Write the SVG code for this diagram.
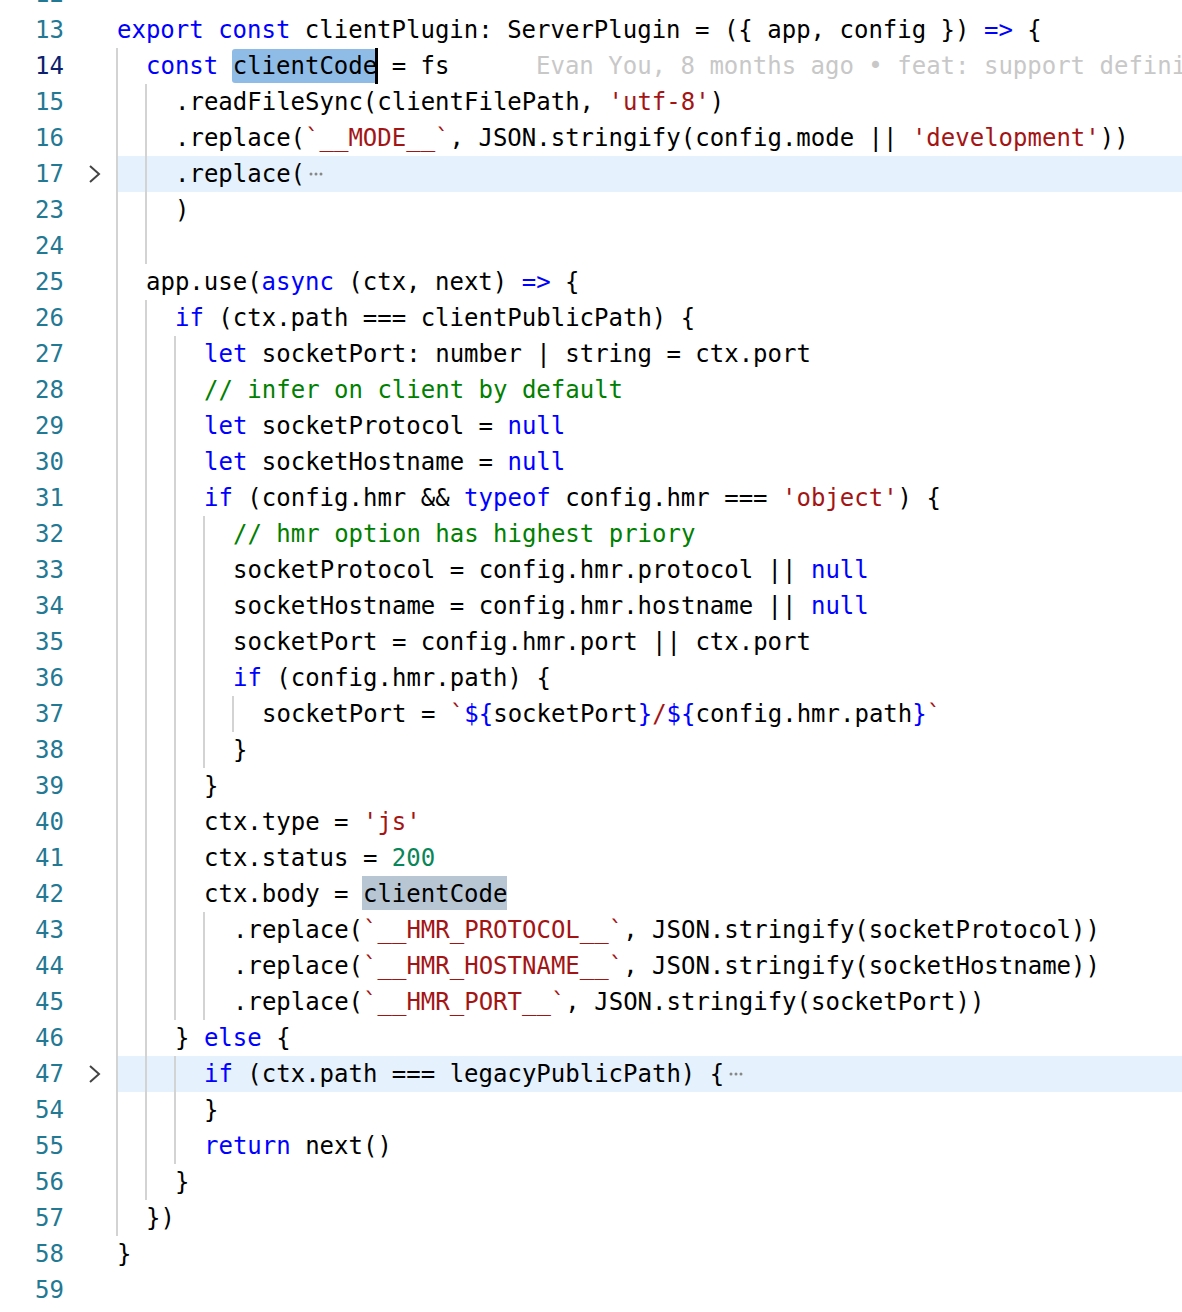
<svg xmlns="http://www.w3.org/2000/svg" width="1182" height="1312" viewBox="0 0 1182 1312">
<style>
text{font-family:"DejaVu Sans Mono","Liberation Mono",monospace;font-size:24px;fill:#000;white-space:pre}
.ln{fill:#237893;text-anchor:end}
.cur{fill:#0b216f}
.k{fill:#0000ff}
.s{fill:#a31515}
.c{fill:#008000}
.n{fill:#098658}
.g{stroke:#d3d3d3;stroke-width:2}
.bl{fill:#c8c8c8}
.el{fill:#888}
.fold{fill:none;stroke:#444;stroke-width:2}
</style>
<rect width="1182" height="1312" fill="#fff"/>
<g id="highlights">
<rect x="117" y="156" width="1065" height="36" fill="#e5f1fd"/>
<rect x="117" y="1056" width="1065" height="36" fill="#e5f1fd"/>
<rect x="232" y="49" width="145" height="34" rx="3" fill="#8fbce7"/>
<rect x="375" y="48" width="3" height="36" fill="#000"/>
<rect x="362" y="876" width="145" height="34" fill="#b8c6d4"/>
</g>
<g id="guides">
<line class="g" x1="117" y1="48" x2="117" y2="1236"/>
<line class="g" x1="146" y1="84" x2="146" y2="264"/>
<line class="g" x1="146" y1="300" x2="146" y2="1200"/>
<line class="g" x1="175" y1="336" x2="175" y2="1020"/>
<line class="g" x1="175" y1="1056" x2="175" y2="1164"/>
<line class="g" x1="204" y1="516" x2="204" y2="768"/>
<line class="g" x1="204" y1="912" x2="204" y2="1020"/>
<line class="g" x1="233" y1="696" x2="233" y2="732"/>
</g>
<g id="folds">
<polyline class="fold" points="90,166 99,174 90,182"/>
<polyline class="fold" points="90,1066 99,1074 90,1082"/>
</g>
<g id="ellipses">
<g class="el"><circle cx="311" cy="174" r="1.5"/><circle cx="316" cy="174" r="1.5"/><circle cx="321" cy="174" r="1.5"/></g>
<g class="el"><circle cx="731" cy="1074" r="1.5"/><circle cx="736" cy="1074" r="1.5"/><circle cx="741" cy="1074" r="1.5"/></g>
</g>
<g id="linenumbers">
<text class="ln" x="64" y="2">12</text>
<text class="ln" x="64" y="38">13</text>
<text class="ln cur" x="64" y="74">14</text>
<text class="ln" x="64" y="110">15</text>
<text class="ln" x="64" y="146">16</text>
<text class="ln" x="64" y="182">17</text>
<text class="ln" x="64" y="218">23</text>
<text class="ln" x="64" y="254">24</text>
<text class="ln" x="64" y="290">25</text>
<text class="ln" x="64" y="326">26</text>
<text class="ln" x="64" y="362">27</text>
<text class="ln" x="64" y="398">28</text>
<text class="ln" x="64" y="434">29</text>
<text class="ln" x="64" y="470">30</text>
<text class="ln" x="64" y="506">31</text>
<text class="ln" x="64" y="542">32</text>
<text class="ln" x="64" y="578">33</text>
<text class="ln" x="64" y="614">34</text>
<text class="ln" x="64" y="650">35</text>
<text class="ln" x="64" y="686">36</text>
<text class="ln" x="64" y="722">37</text>
<text class="ln" x="64" y="758">38</text>
<text class="ln" x="64" y="794">39</text>
<text class="ln" x="64" y="830">40</text>
<text class="ln" x="64" y="866">41</text>
<text class="ln" x="64" y="902">42</text>
<text class="ln" x="64" y="938">43</text>
<text class="ln" x="64" y="974">44</text>
<text class="ln" x="64" y="1010">45</text>
<text class="ln" x="64" y="1046">46</text>
<text class="ln" x="64" y="1082">47</text>
<text class="ln" x="64" y="1118">54</text>
<text class="ln" x="64" y="1154">55</text>
<text class="ln" x="64" y="1190">56</text>
<text class="ln" x="64" y="1226">57</text>
<text class="ln" x="64" y="1262">58</text>
<text class="ln" x="64" y="1298">59</text>
</g>
<g id="code">
<text x="117" y="38"><tspan class="k">export</tspan> <tspan class="k">const</tspan> clientPlugin: ServerPlugin = ({ app, config }) <tspan class="k">=&gt;</tspan> {</text>
<text x="146" y="74"><tspan class="k">const</tspan> clientCode = fs</text>
<text class="bl" x="536" y="74">Evan You, 8 months ago • feat: support defini</text>
<text x="175" y="110">.readFileSync(clientFilePath, <tspan class="s">'utf-8'</tspan>)</text>
<text x="175" y="146">.replace(<tspan class="s">`__MODE__`</tspan>, JSON.stringify(config.mode || <tspan class="s">'development'</tspan>))</text>
<text x="175" y="182">.replace(</text>
<text x="175" y="218">)</text>
<text x="146" y="290">app.use(<tspan class="k">async</tspan> (ctx, next) <tspan class="k">=&gt;</tspan> {</text>
<text x="175" y="326"><tspan class="k">if</tspan> (ctx.path === clientPublicPath) {</text>
<text x="204" y="362"><tspan class="k">let</tspan> socketPort: number | string = ctx.port</text>
<text x="204" y="398" class="c">// infer on client by default</text>
<text x="204" y="434"><tspan class="k">let</tspan> socketProtocol = <tspan class="k">null</tspan></text>
<text x="204" y="470"><tspan class="k">let</tspan> socketHostname = <tspan class="k">null</tspan></text>
<text x="204" y="506"><tspan class="k">if</tspan> (config.hmr &amp;&amp; <tspan class="k">typeof</tspan> config.hmr === <tspan class="s">'object'</tspan>) {</text>
<text x="233" y="542" class="c">// hmr option has highest priory</text>
<text x="233" y="578">socketProtocol = config.hmr.protocol || <tspan class="k">null</tspan></text>
<text x="233" y="614">socketHostname = config.hmr.hostname || <tspan class="k">null</tspan></text>
<text x="233" y="650">socketPort = config.hmr.port || ctx.port</text>
<text x="233" y="686"><tspan class="k">if</tspan> (config.hmr.path) {</text>
<text x="262" y="722">socketPort = <tspan class="s">`</tspan><tspan class="k">${</tspan>socketPort<tspan class="k">}</tspan><tspan class="s">/</tspan><tspan class="k">${</tspan>config.hmr.path<tspan class="k">}</tspan><tspan class="s">`</tspan></text>
<text x="233" y="758">}</text>
<text x="204" y="794">}</text>
<text x="204" y="830">ctx.type = <tspan class="s">'js'</tspan></text>
<text x="204" y="866">ctx.status = <tspan class="n">200</tspan></text>
<text x="204" y="902">ctx.body = clientCode</text>
<text x="233" y="938">.replace(<tspan class="s">`__HMR_PROTOCOL__`</tspan>, JSON.stringify(socketProtocol))</text>
<text x="233" y="974">.replace(<tspan class="s">`__HMR_HOSTNAME__`</tspan>, JSON.stringify(socketHostname))</text>
<text x="233" y="1010">.replace(<tspan class="s">`__HMR_PORT__`</tspan>, JSON.stringify(socketPort))</text>
<text x="175" y="1046">} <tspan class="k">else</tspan> {</text>
<text x="204" y="1082"><tspan class="k">if</tspan> (ctx.path === legacyPublicPath) {</text>
<text x="204" y="1118">}</text>
<text x="204" y="1154"><tspan class="k">return</tspan> next()</text>
<text x="175" y="1190">}</text>
<text x="146" y="1226">})</text>
<text x="117" y="1262">}</text>
</g>
</svg>
